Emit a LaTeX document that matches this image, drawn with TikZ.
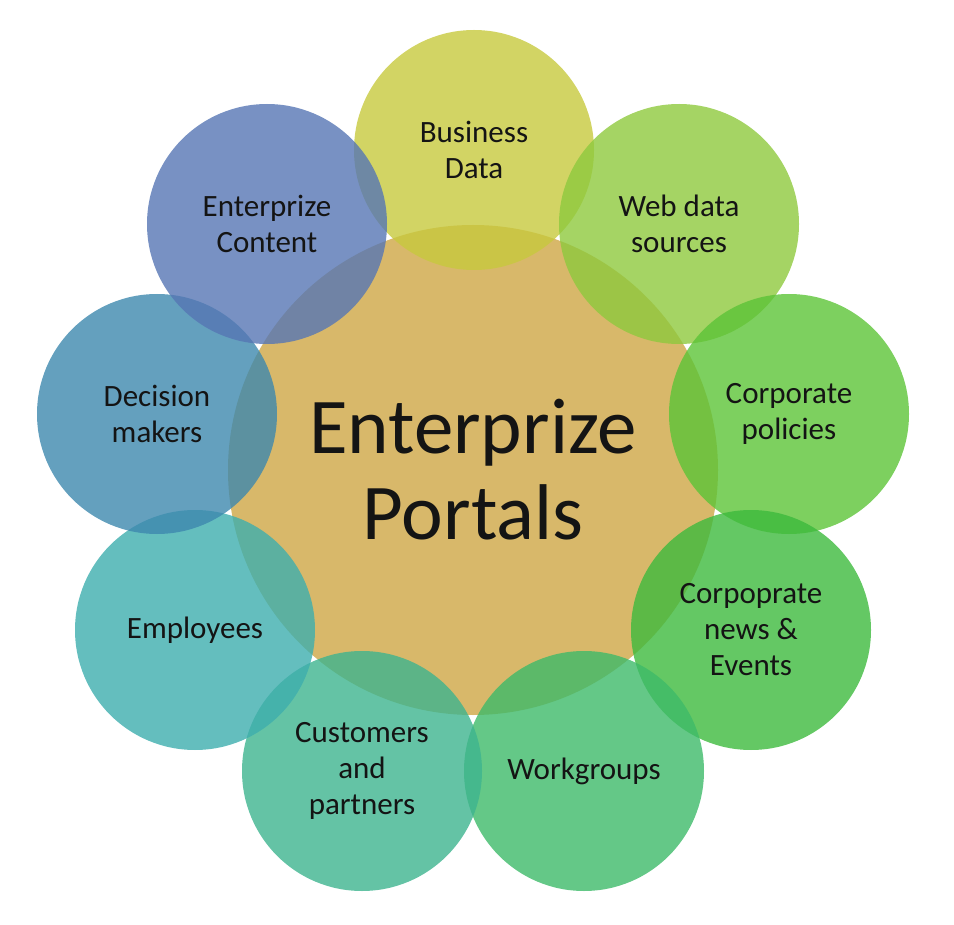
\documentclass[tikz,border=0pt]{standalone}
\usepackage{fontspec}
\setmainfont{Carlito}
\definecolor{hubfill}{RGB}{216,184,106}
\definecolor{cA}{RGB}{199,201,61}
\definecolor{cB}{RGB}{142,201,61}
\definecolor{cC}{RGB}{92,196,55}
\definecolor{cD}{RGB}{61,186,61}
\definecolor{cE}{RGB}{61,186,105}
\definecolor{cF}{RGB}{61,180,143}
\definecolor{cG}{RGB}{61,174,174}
\definecolor{cH}{RGB}{61,136,174}
\definecolor{cI}{RGB}{86,118,180}
\definecolor{ink}{RGB}{20,20,20}
\begin{document}
\begin{tikzpicture}[x=1pt,y=-1pt,
  hub/.style={circle, minimum size=490pt, inner sep=0pt, fill=hubfill,
    align=center, text=ink, font=\fontsize{79}{86}\selectfont},
  petal/.style={circle, minimum size=240pt, inner sep=0pt, fill=#1,
    fill opacity=0.8, text opacity=1, align=center, text=ink,
    font=\fontsize{31}{36}\selectfont}]
\useasboundingbox (0,0) rectangle (954,925);
% central hub
\node[hub] (hub) at (473,470) {Enterprize\\Portals};
% ring of nine petals, clockwise from the top
\node[petal=cA] (bd) at (474,150) {Business\\Data};
\node[petal=cB] (wd) at (679,224) {Web data\\sources};
\node[petal=cC] (cp) at (789,414) {Corporate\\policies};
\node[petal=cD] (cn) at (751,630) {Corpoprate\\news \&\\Events};
\node[petal=cE] (wg) at (584,771) {Workgroups};
\node[petal=cF] (cu) at (362,771) {Customers\\and\\partners};
\node[petal=cG] (em) at (195,630) {Employees};
\node[petal=cH] (dm) at (157,414) {Decision\\makers};
\node[petal=cI] (ec) at (267,224) {Enterprize\\Content};
\end{tikzpicture}
\end{document}
